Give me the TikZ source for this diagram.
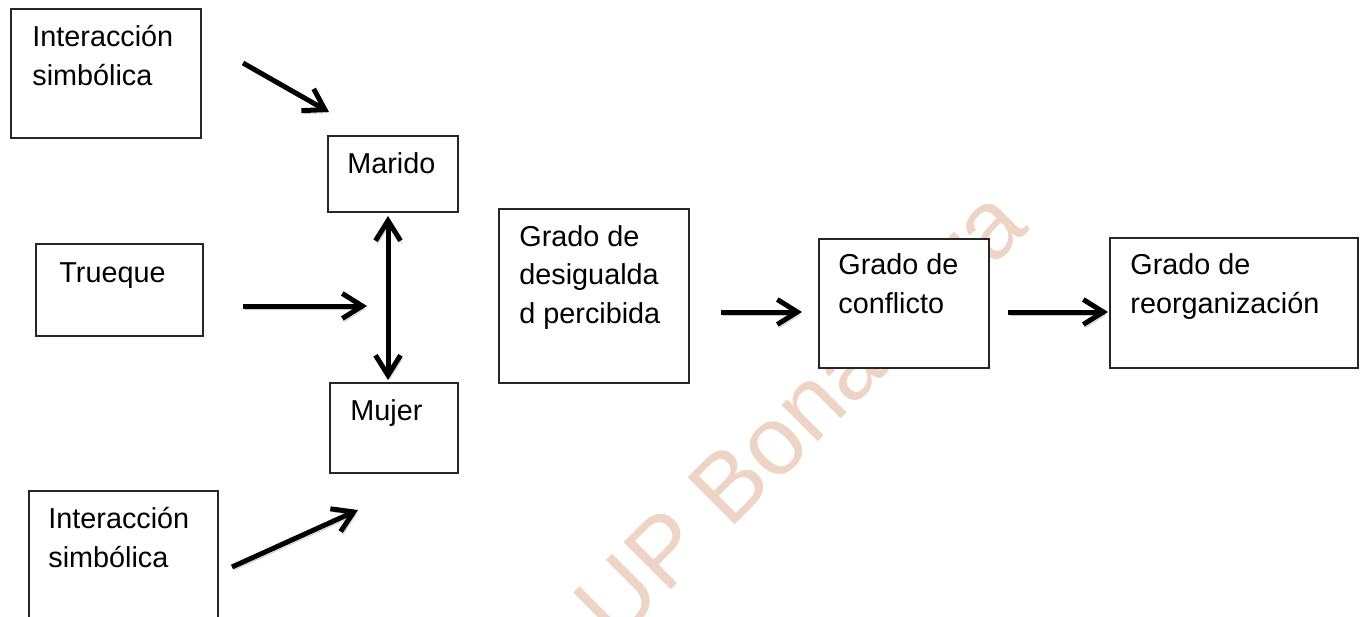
\documentclass[tikz,border=0pt]{standalone}
\usepackage{fontspec}
\setmainfont{Liberation Sans}
\usetikzlibrary{arrows.meta}
\definecolor{wm}{RGB}{237,212,197}
\definecolor{edge}{RGB}{38,38,38}
\tikzset{
  box/.style={draw=edge, line width=0.75pt, fill=white, anchor=north west, inner sep=0pt},
  txt/.style={anchor=base west, inner sep=0pt, align=left, font=\fontsize{14.4}{19.2}\selectfont},
  conn/.style={line width=2.5pt, -{Straight Barb[length=10pt,width=12.5pt]},
    preaction={draw=black!22, transform canvas={shift={(1pt,-1.5pt)}}}},
  dconn/.style={line width=2.5pt, {Straight Barb[length=10pt,width=12.5pt]}-{Straight Barb[length=10pt,width=12.5pt]},
    preaction={draw=black!22, transform canvas={shift={(1pt,-1.5pt)}}}}
}
\begin{document}
\begin{tikzpicture}[x=0.5pt,y=-0.5pt]
\useasboundingbox (0,0) rectangle (1360,616);
\clip (0,0) rectangle (1360,616);
% watermark
\node[rotate=45, text=wm, inner sep=0pt, font=\fontsize{48.5}{50}\selectfont] (wmk) at (800,414) {UP Bonaterra};
% boxes
\node[box, minimum width=95pt, minimum height=64.5pt] (is1) at (10,8) {};
\node[box, minimum width=65pt, minimum height=38pt] (marido) at (327,135) {};
\node[box, minimum width=83.5pt, minimum height=46pt] (trueque) at (35,243) {};
\node[box, minimum width=64pt, minimum height=45pt] (mujer) at (329,382) {};
\node[box, minimum width=94.5pt, minimum height=70pt] (is2) at (28,490) {};
\node[box, minimum width=95pt, minimum height=87pt] (desig) at (498,208) {};
\node[box, minimum width=85pt, minimum height=64.5pt] (confl) at (818,238) {};
\node[box, minimum width=124pt, minimum height=65pt] (reorg) at (1109,237) {};
% texts (anchor = baseline of the last line)
\node[txt] (tis1) at (32,85) {Interacción\\simbólica};
\node[txt] (tmarido) at (347,173) {Marido};
\node[txt] (ttrueque) at (59,282) {Trueque};
\node[txt] (tmujer) at (350,420) {Mujer};
\node[txt] (tis2) at (48,567) {Interacción\\simbólica};
\node[txt] (tdesig) at (519,323) {Grado de\\desigualda\\d percibida};
\node[txt] (tconfl) at (838,313) {Grado de\\conflicto};
\node[txt] (treorg) at (1130,313) {Grado de\\reorganización};
% connector end points
\coordinate (a1s) at (243,63);   \coordinate (a1e) at (329,112);
\coordinate (a2s) at (243,306);  \coordinate (a2e) at (367,306);
\coordinate (a3s) at (388,380);  \coordinate (a3e) at (388,216);
\coordinate (a4s) at (232,567);  \coordinate (a4e) at (358,510);
\coordinate (a5s) at (721,312);  \coordinate (a5e) at (802,312);
\coordinate (a6s) at (1008,312); \coordinate (a6e) at (1108,312);
% connectors
\draw[conn] (a1s) -- (a1e);
\draw[conn] (a2s) -- (a2e);
\draw[dconn] (a3s) -- (a3e);
\draw[conn] (a4s) -- (a4e);
\draw[conn] (a5s) -- (a5e);
\draw[conn] (a6s) -- (a6e);
\end{tikzpicture}
\end{document}
